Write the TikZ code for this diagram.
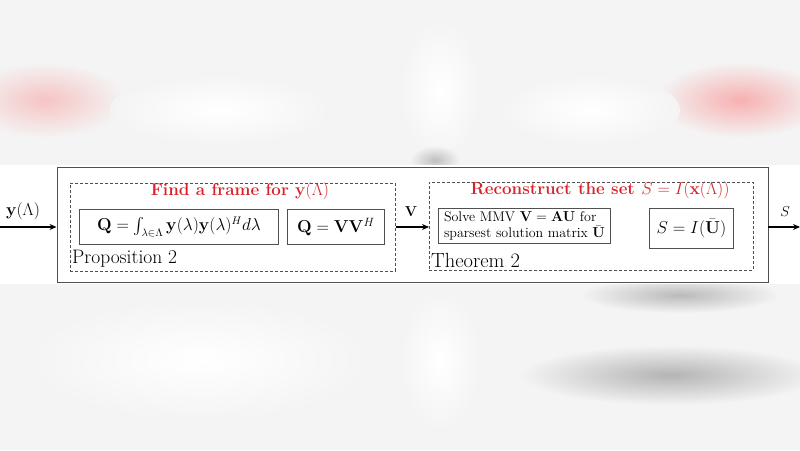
\documentclass[tikz,border=0pt]{standalone}
\usepackage{amsmath,amssymb}
\usetikzlibrary{arrows.meta,calc}
\definecolor{bgc}{HTML}{F4F4F4}
\definecolor{titlered}{HTML}{D8232A}
\definecolor{linec}{HTML}{505050}
\tikzset{
  solidbox/.style={draw=linec, line width=0.9pt, fill=white, inner sep=0pt, anchor=north west},
  dashbox/.style={draw=linec, line width=0.7pt, densely dashed, inner sep=0pt, anchor=north west},
  arrowline/.style={draw=black, line width=1.3pt, -{Stealth[length=7pt,width=6pt]}},
  redtitle/.style={text=titlered, font=\fontsize{17}{20}\selectfont\bfseries, anchor=center, inner sep=0pt},
  caption/.style={anchor=base west, inner sep=0pt},
  mathlbl/.style={font=\fontsize{16}{19}\selectfont, inner sep=0pt},
}
\begin{document}
\begin{tikzpicture}[x=1pt,y=-1pt]
\useasboundingbox (0,0) rectangle (800,450);
% blurred background
\fill[bgc] (0,0) rectangle (800,450);
\shade[inner color=red!20!bgc, outer color=bgc] (45,100) ellipse (80 and 38);
\shade[inner color=red!28!bgc, outer color=bgc] (740,100) ellipse (85 and 38);
\shade[inner color=white, outer color=bgc] (220,110) ellipse (110 and 35);
\shade[inner color=white, outer color=bgc] (590,110) ellipse (90 and 35);
\shade[inner color=white, outer color=bgc] (440,90) ellipse (40 and 70);
\shade[inner color=gray!45!bgc, outer color=bgc] (435,160) ellipse (25 and 14);
\shade[inner color=gray!50!bgc, outer color=bgc] (680,295) ellipse (100 and 18);
\shade[inner color=gray!55!bgc, outer color=bgc] (670,375) ellipse (150 and 30);
\shade[inner color=white, outer color=bgc] (200,360) ellipse (170 and 60);
\shade[inner color=white, outer color=bgc] (440,360) ellipse (40 and 70);
% white band
\fill[white] (0,165) rectangle (800,284);

% outer frame
\node[solidbox, minimum width=711pt, minimum height=115pt] (outer) at (56.5,167) {};
% dashed groups
\node[dashbox, minimum width=325pt, minimum height=88pt] (g1) at (70,182.5) {};
\node[dashbox, minimum width=324pt, minimum height=88pt] (g2) at (429,182) {};

% titles
\node[redtitle] (t1) at (240,191) {Find a frame for $\mathbf{y}(\Lambda)$};
\node[redtitle] (t2) at (600,190) {Reconstruct the set $S=I(\mathbf{x}(\Lambda))$};

% inner boxes
\node[solidbox, minimum width=199pt, minimum height=35pt, font=\fontsize{16.3}{19}\selectfont] (b1) at (79,209)
  {$\mathbf{Q}=\int_{\lambda\in\Lambda}\mathbf{y}(\lambda)\mathbf{y}(\lambda)^{H}d\lambda$};
\node[solidbox, minimum width=97pt, minimum height=35pt, font=\fontsize{18.5}{21}\selectfont] (b2) at (287,209)
  {$\mathbf{Q}=\mathbf{V}\mathbf{V}^{H}$};
\node[solidbox, minimum width=172pt, minimum height=35pt, font=\fontsize{14}{16.5}\selectfont, align=left] (b3) at (438,208)
  {Solve MMV $\mathbf{V}=\mathbf{A}\mathbf{U}$ for\\sparsest solution matrix $\bar{\mathbf{U}}$};
\node[solidbox, minimum width=84pt, minimum height=40pt, font=\fontsize{16}{19}\selectfont] (b4) at (649,208)
  {$S=I(\bar{\mathbf{U}})$};

% captions
\node[caption, font=\fontsize{19.5}{22}\selectfont] (c1) at (72,263) {Proposition 2};
\node[caption, font=\fontsize{20.5}{22}\selectfont] (c2) at (431,267.5) {Theorem 2};

% connectors
\coordinate (in) at (0,227);
\coordinate (out) at (800,227);
\draw[arrowline] (in) -- (outer.west |- in);
\draw[arrowline] (g1.east |- in) -- (g2.west |- in);
\draw[arrowline] (outer.east |- out) -- (out);

% connector labels
\node[mathlbl] (l1) at (23,211) {$\mathbf{y}(\Lambda)$};
\node[mathlbl, font=\fontsize{14}{16}\selectfont] (l2) at (411,212) {$\mathbf{V}$};
\node[mathlbl, font=\fontsize{15}{16}\selectfont] (l3) at (785,212) {$S$};
\end{tikzpicture}
\end{document}
